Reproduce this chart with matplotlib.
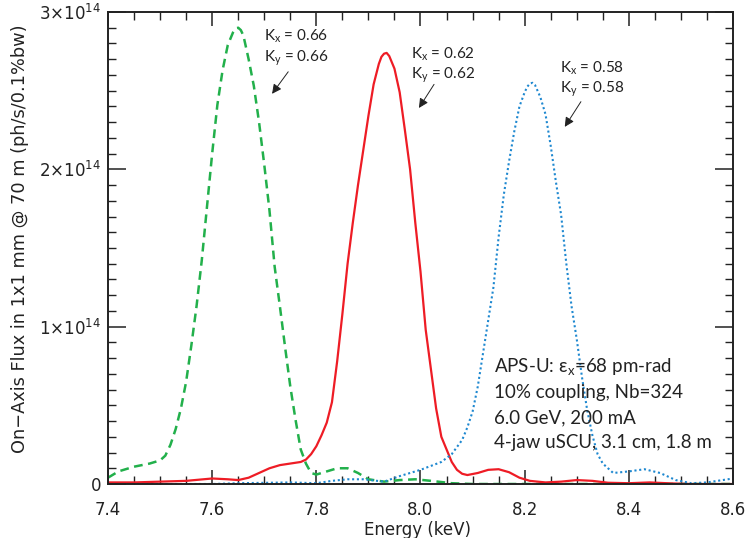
import numpy as np
import matplotlib
matplotlib.use("Agg")
import matplotlib.pyplot as plt
from matplotlib.ticker import MultipleLocator, FuncFormatter

# flux in units of 1e14 ph/s/0.1%bw
e_066 = [7.40, 7.42, 7.45, 7.48, 7.50, 7.51, 7.52, 7.53, 7.54, 7.55, 7.56, 7.57, 7.58, 7.59,
         7.60, 7.61, 7.62, 7.63, 7.64, 7.645, 7.65, 7.655, 7.66, 7.67, 7.68, 7.69, 7.70, 7.71,
         7.72, 7.73, 7.74, 7.75, 7.76, 7.77, 7.78, 7.79, 7.80, 7.82, 7.84, 7.86, 7.88, 7.90,
         7.93, 7.96, 7.99, 8.02, 8.06, 8.10, 8.20, 8.30, 8.40, 8.50, 8.60]
f_066 = [0.04, 0.08, 0.11, 0.13, 0.15, 0.18, 0.25, 0.35, 0.48, 0.65, 0.88, 1.13, 1.42, 1.76,
         2.10, 2.41, 2.63, 2.79, 2.87, 2.895, 2.90, 2.885, 2.85, 2.70, 2.53, 2.30, 2.03, 1.74,
         1.38, 1.13, 0.87, 0.62, 0.41, 0.22, 0.13, 0.07, 0.06, 0.08, 0.10, 0.10, 0.07, 0.03,
         0.015, 0.025, 0.03, 0.02, 0.005, 0.0, 0.0, 0.0, 0.0, 0.0, 0.0]

e_062 = [7.40, 7.45, 7.50, 7.55, 7.60, 7.63, 7.65, 7.67, 7.69, 7.71, 7.73, 7.75, 7.77, 7.78,
         7.79, 7.80, 7.81, 7.82, 7.83, 7.84, 7.85, 7.86, 7.87, 7.88, 7.89, 7.90, 7.91, 7.92,
         7.925, 7.93, 7.935, 7.94, 7.95, 7.96, 7.97, 7.98, 7.99, 8.00, 8.01, 8.02, 8.03, 8.04,
         8.05, 8.06, 8.07, 8.08, 8.09, 8.11, 8.13, 8.15, 8.17, 8.19, 8.21, 8.24, 8.27, 8.30,
         8.33, 8.36, 8.40, 8.44, 8.48, 8.52, 8.60]
f_062 = [0.01, 0.01, 0.015, 0.02, 0.035, 0.03, 0.025, 0.04, 0.07, 0.10, 0.12, 0.13, 0.14, 0.155,
         0.19, 0.24, 0.31, 0.39, 0.52, 0.78, 1.08, 1.40, 1.66, 1.90, 2.12, 2.34, 2.54, 2.67,
         2.715, 2.735, 2.74, 2.72, 2.64, 2.49, 2.25, 2.00, 1.66, 1.35, 0.98, 0.73, 0.48, 0.30,
         0.22, 0.14, 0.09, 0.065, 0.057, 0.07, 0.09, 0.094, 0.075, 0.04, 0.02, 0.01, 0.015, 0.025,
         0.02, 0.008, 0.005, 0.01, 0.004, 0.0, 0.0]

e_058 = [7.40, 7.60, 7.65, 7.75, 7.80, 7.83, 7.86, 7.89, 7.93, 7.96, 8.00, 8.04, 8.06, 8.08,
         8.09, 8.10, 8.11, 8.12, 8.13, 8.14, 8.15, 8.16, 8.17, 8.18, 8.19, 8.20, 8.205, 8.21,
         8.215, 8.22, 8.23, 8.24, 8.25, 8.26, 8.27, 8.28, 8.29, 8.30, 8.31, 8.32, 8.33, 8.34,
         8.35, 8.37, 8.40, 8.43, 8.46, 8.49, 8.52, 8.55, 8.60]
f_058 = [0.0, 0.0, 0.005, 0.01, 0.005, 0.02, 0.03, 0.03, 0.015, 0.05, 0.09, 0.14, 0.19, 0.28,
         0.36, 0.46, 0.62, 0.83, 1.04, 1.25, 1.57, 1.84, 2.05, 2.24, 2.40, 2.49, 2.525, 2.545,
         2.55, 2.535, 2.46, 2.35, 2.15, 1.92, 1.71, 1.40, 1.13, 0.92, 0.68, 0.47, 0.31, 0.19,
         0.13, 0.07, 0.08, 0.094, 0.07, 0.025, 0.005, 0.01, 0.035]

k_labels = ["0.66", "0.62", "0.58"]
info_lines = ["APS-U: \u03b5$_\\mathregular{x}$=68 pm-rad",
              "10% coupling, Nb=324",
              "6.0 GeV, 200 mA",
              "4-jaw uSCU, 3.1 cm, 1.8 m"]

scale = 1e14

fig = plt.figure(figsize=(7.45, 5.38), dpi=100)
ax = fig.add_axes([108/745, 1-484/538, 625/745, 472/538])

ax.plot(e_066, np.array(f_066)*scale, color='#22b04b', lw=1.8, dashes=(3.5, 2.2))
ax.plot(e_062, np.array(f_062)*scale, color='#ee1c25', lw=1.6)
ax.plot(e_058, np.array(f_058)*scale, color='#1e88d0', lw=1.5, linestyle=(0, (1, 1.3)))

ax.set_xlim(7.4, 8.6)
ax.set_ylim(0, 3e14)
ax.xaxis.set_major_locator(MultipleLocator(0.2))
ax.xaxis.set_minor_locator(MultipleLocator(0.05))
ax.yaxis.set_major_locator(MultipleLocator(1e14))
ax.yaxis.set_minor_locator(MultipleLocator(0.1e14))

def yfmt(v, pos):
    n = int(round(v/1e14))
    if n == 0:
        return "0"
    return r"$%d{\times}10^{14}$" % n

ax.yaxis.set_major_formatter(FuncFormatter(yfmt))
ax.xaxis.set_major_formatter(FuncFormatter(lambda v, p: "%.1f" % v))

ax.tick_params(which='both', direction='in', top=True, right=True, color='#222222')
ax.tick_params(which='major', length=10, width=1.1, labelsize=12, colors='#222222')
ax.tick_params(axis='y', which='major', length=13)
ax.tick_params(which='minor', length=6, width=1.0)
ax.tick_params(axis='x', which='major', pad=12)
ax.tick_params(axis='y', which='major', pad=5)
for s in ax.spines.values():
    s.set_linewidth(1.4)
    s.set_color('#222222')

fig.text(20/745, 1-239/538, "On\u2212Axis Flux in 1x1 mm @ 70 m (ph/s/0.1%bw)",
         rotation=90, ha='center', va='center', fontsize=12.8, color='#222222')
fig.text(418/745, 1-530/538, "Energy (keV)", ha='center', va='center',
         fontsize=12, color='#222222')

# K labels with arrows
text_pos = [(7.700, 2.90), (7.982, 2.79), (8.268, 2.70)]
arrow_from = [(7.746, 2.62), (8.026, 2.54), (8.308, 2.43)]
arrow_to = [(7.715, 2.48), (7.997, 2.39), (8.277, 2.27)]
for k, tp, af, at in zip(k_labels, text_pos, arrow_from, arrow_to):
    ax.text(tp[0], tp[1]*scale,
            r"K$_\mathregular{x}$ = %s" % k + "\n" + r"K$_\mathregular{y}$ = %s" % k,
            ha='left', va='top', fontsize=11, family='Lato', color='#222222',
            linespacing=1.2)
    ax.annotate("", xy=(at[0], at[1]*scale), xytext=(af[0], af[1]*scale),
                arrowprops=dict(arrowstyle='-|>', color='#222222', lw=0.7,
                                mutation_scale=14, shrinkA=0, shrinkB=0))

for i, line in enumerate(info_lines):
    ax.text(8.141, (0.739 - i*0.159)*scale, line, ha='left', va='center',
            fontsize=13.5, family=['Lato', 'DejaVu Sans'], color='#222222')

fig.savefig("out.png", dpi=100)
